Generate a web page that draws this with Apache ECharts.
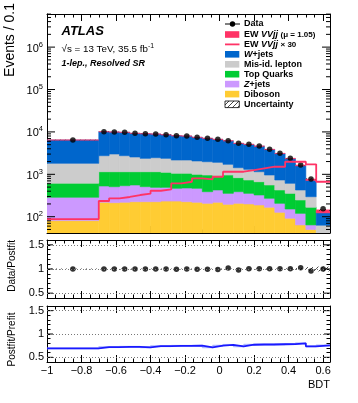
<!DOCTYPE html>
<html><head><meta charset="utf-8">
<script src="https://cdn.jsdelivr.net/npm/echarts@6/dist/echarts.min.js"></script>
<style>html,body{margin:0;padding:0;background:#fff}#c{width:358px;height:403px}</style>
</head><body><div id="c"></div>
<script>
// ---------------- data ----------------
const binEdges = [-1, -0.7, -0.64, -0.58, -0.52, -0.46, -0.40, -0.34, -0.28, -0.22, -0.16, -0.10, -0.04,
  0.02, 0.08, 0.14, 0.20, 0.26, 0.32, 0.38, 0.44, 0.50, 0.56, 0.64];
const diboson = [81, 219, 214, 219, 226, 226, 226, 234, 234, 226, 219, 207, 219, 196, 207, 200, 189, 167, 127, 92, 64, 50, 3];
const zjets   = [206, 311, 296, 319, 334, 285, 267, 259, 234, 250, 249, 182, 208, 160, 182, 156, 136, 105, 80, 60, 56, 14, 3];
const topQuarks = [327, 620, 640, 612, 590, 640, 658, 621, 589, 581, 532, 573, 500, 606, 443, 379, 343, 288, 220, 204, 128, 103, 12];
const misid   = [1201, 1600, 1860, 1600, 1410, 1231, 1313, 1268, 1116, 1116, 1061, 1020, 992, 760, 600, 577, 483, 402, 308, 258, 179, 129, 45];
const wjets   = [4622, 7362, 6931, 7030, 6699, 6686, 6442, 6193, 5937, 5805, 5372, 5063, 4742, 4440, 3913, 3751, 3448, 2878, 2341, 1702, 1163, 421, 60];
const ewSignal = [2.9, 7.8, 9, 10, 11, 12, 14, 15, 20, 22, 27, 25, 29, 38, 38, 42, 46, 50, 50, 66, 66, 57, 22];
const ewX30   = [88, 235, 272, 292, 325, 350, 410, 443, 614, 668, 805, 762, 877, 1151, 1151, 1262, 1387, 1510, 1510, 1980, 1980, 1720, 668];
const dataVals = [6440, 10120, 9950, 9790, 9270, 9080, 8920, 8590, 8130, 8000, 7460, 7070, 6690, 6200, 5380, 5100, 4650, 3890, 3130, 2380, 1660, 774, 155];
const uncRel  = [0.01, 0.01, 0.01, 0.01, 0.01, 0.01, 0.01, 0.01, 0.01, 0.01, 0.01, 0.01, 0.01, 0.01, 0.01, 0.01, 0.012, 0.012, 0.012, 0.015, 0.02, 0.04, 0.05];
const dataPostfit = [1.0, 1.0, 1.0, 1.0, 1.0, 1.0, 1.0, 1.0, 0.995, 1.0, 0.995, 0.995, 0.99, 1.02, 0.98, 1.005, 1.005, 1.005, 1.005, 1.005, 1.025, 0.96, 1.0];
const postfitPrefit = [0.69, 0.72, 0.72, 0.725, 0.725, 0.715, 0.74, 0.74, 0.745, 0.745, 0.75, 0.715, 0.75, 0.765, 0.735, 0.77, 0.775, 0.775, 0.78, 0.785, 0.80, 0.735, 0.755];
const logTickLabels = [1e2, 1e3, 1e4, 1e5, 1e6];
const ratioTickLabels = [0.5, 1, 1.5];

// ---------------- styling / layout ----------------
const FONT = '"Liberation Sans", Arial, Helvetica, sans-serif';
const XMIN = -1, XMAX = 0.64;
const YMIN = 41.3, YMAX = 6.04e6;
const nb = dataVals.length;
const centers = binEdges.slice(0, -1).map((e, i) => (e + binEdges[i + 1]) / 2);

function hatchCanvas() {
  const c = document.createElement('canvas'); c.width = 5; c.height = 5;
  const g = c.getContext('2d'); g.strokeStyle = '#333'; g.lineWidth = 0.9;
  g.beginPath(); g.moveTo(0, 5); g.lineTo(5, 0); g.moveTo(-1, 1); g.lineTo(1, -1); g.moveTo(4, 6); g.lineTo(6, 4); g.stroke();
  return c;
}
const HATCH = { image: hatchCanvas(), repeat: 'repeat' };

function rectSeries(xi, yi, lo, hi, fill, stroke) {
  return {
    type: 'custom', xAxisIndex: xi, yAxisIndex: yi, clip: true, silent: true, animation: false,
    data: lo.map((l, i) => [binEdges[i], binEdges[i + 1], l, hi[i]]),
    encode: { x: [0, 1], y: [2, 3] },
    renderItem: (p, api) => {
      const a = api.coord([api.value(0), api.value(3)]);
      const b = api.coord([api.value(1), api.value(2)]);
      return { type: 'rect', shape: { x: a[0], y: a[1], width: b[0] - a[0], height: b[1] - a[1] },
        style: stroke ? { fill: fill, stroke: stroke, lineWidth: 0.6 } : { fill: fill } };
    }
  };
}
function tickSeries(xi, yi, vals, len) {
  return {
    type: 'custom', xAxisIndex: xi, yAxisIndex: yi, clip: false, silent: true, animation: false,
    data: vals.map(v => [XMIN, v]), encode: { x: 0, y: 1 },
    renderItem: (p, api) => {
      const l = api.coord([XMIN, api.value(1)]);
      const r = api.coord([XMAX, api.value(1)]);
      const st = { stroke: '#000', lineWidth: 1 };
      return { type: 'group', children: [
        { type: 'line', shape: { x1: l[0], y1: l[1], x2: l[0] + len, y2: l[1] }, style: st },
        { type: 'line', shape: { x1: r[0] - len, y1: r[1], x2: r[0], y2: r[1] }, style: st }
      ] };
    }
  };
}
function stepPoints(vals) {
  const pts = vals.map((v, i) => [binEdges[i], v]);
  pts.push([binEdges[nb], vals[nb - 1]]);
  return pts;
}

// stacked layers, bottom to top
const layers = [
  { v: diboson, c: '#ffcc33' },
  { v: zjets, c: '#cc99ff' },
  { v: topQuarks, c: '#00cc33' },
  { v: misid, c: '#cccccc' },
  { v: wjets, c: '#0066cc' },
  { v: ewSignal, c: '#ff3366' }
];
const series = [];
let lo = new Array(nb).fill(1e-3);
layers.forEach(L => {
  const hi = lo.map((b, i) => (b < 1 ? 0 : b) + L.v[i]);
  series.push(rectSeries(0, 0, lo, hi, L.c, L.c));
  lo = hi;
});
const total = lo;
series.push(rectSeries(0, 0, total.map((t, i) => t * (1 - uncRel[i])), total.map((t, i) => t * (1 + uncRel[i])), HATCH));
series.push({ type: 'line', xAxisIndex: 0, yAxisIndex: 0, step: 'end', data: stepPoints(ewX30), symbol: 'none',
  lineStyle: { color: '#ff3366', width: 1.8 }, animation: false, silent: true, clip: true });
series.push({ type: 'scatter', xAxisIndex: 0, yAxisIndex: 0, data: centers.map((c, i) => [c, dataVals[i]]),
  symbol: 'circle', symbolSize: 5.5, itemStyle: { color: '#000' }, animation: false, silent: true });
// log minor/major ticks
const minorLog = [];
for (let e = 1; e <= 6; e++) for (let m = 2; m <= 9; m++) { const v = m * Math.pow(10, e); if (v > YMIN && v < YMAX) minorLog.push(v); }
series.push(tickSeries(0, 0, minorLog, 4));
series.push(tickSeries(0, 0, logTickLabels, 8));

// ratio panel 1: data / postfit
series.push(rectSeries(2, 2, uncRel.map(u => 1 - u), uncRel.map(u => 1 + u), HATCH));
series.push({ type: 'scatter', xAxisIndex: 2, yAxisIndex: 2, data: centers.map((c, i) => [c, dataPostfit[i]]),
  symbol: 'circle', symbolSize: 5.5, itemStyle: { color: '#000' }, animation: false, silent: true,
  markLine: { silent: true, symbol: 'none', label: { show: false }, animation: false,
    lineStyle: { color: '#777', type: [1, 2], width: 1 }, data: ratioTickLabels.map(v => ({ yAxis: v })) } });
series.push(tickSeries(2, 2, ratioTickLabels, 6));
// ratio panel 2: postfit / prefit
series.push(rectSeries(4, 4, postfitPrefit.map(v => v - 0.012), postfitPrefit.map(v => v + 0.012), '#aab4ff', '#aab4ff'));
series.push({ type: 'line', xAxisIndex: 4, yAxisIndex: 4, step: 'end', data: stepPoints(postfitPrefit), symbol: 'none',
  lineStyle: { color: '#1a1aff', width: 1.8 }, animation: false, silent: true,
  markLine: { silent: true, symbol: 'none', label: { show: false }, animation: false,
    lineStyle: { color: '#777', type: [1, 2], width: 1 }, data: ratioTickLabels.map(v => ({ yAxis: v })) } });
series.push(tickSeries(4, 4, ratioTickLabels, 6));

// ---------------- axes ----------------
const fmtX = v => { const r = Math.round(v * 10) / 10; return Math.abs(r) < 1e-9 ? '0' : String(r).replace('-', '\u2212'); };
function xAx(grid, pos, labels) {
  return { type: 'value', gridIndex: grid, position: pos, min: XMIN, max: XMAX, interval: 0.2,
    axisLine: { show: true, onZero: false, lineStyle: { color: '#000', width: 1 } },
    axisTick: { show: true, inside: true, length: 7, lineStyle: { color: '#000' } },
    minorTick: { show: true, splitNumber: 4, length: 3.5, lineStyle: { color: '#000' } },
    splitLine: { show: false }, minorSplitLine: { show: false },
    axisLabel: { show: labels, fontSize: 11, fontFamily: FONT, color: '#000', margin: 3, formatter: fmtX } };
}
function yRatio(grid, pos, labels) {
  return { type: 'value', gridIndex: grid, position: pos, min: 0.4, max: 1.6, interval: 0.1,
    axisLine: { show: true, onZero: false, lineStyle: { color: '#000', width: 1 } },
    axisTick: { show: true, inside: true, length: 3.5, lineStyle: { color: '#000' } },
    splitLine: { show: false },
    axisLabel: { show: labels, fontSize: 11, fontFamily: FONT, color: '#000', margin: 3,
      formatter: v => { const r = Math.round(v * 10) / 10; return ratioTickLabels.indexOf(r) >= 0 ? String(r) : ''; } } };
}
function yLog(pos, labels) {
  return { type: 'log', logBase: 10, gridIndex: 0, position: pos, min: YMIN, max: YMAX,
    axisLine: { show: true, onZero: false, lineStyle: { color: '#000', width: 1 } },
    axisTick: { show: false }, splitLine: { show: false }, minorTick: { show: false },
    axisLabel: { show: labels, showMinLabel: false, showMaxLabel: false, margin: 4, color: '#000',
      formatter: v => { const n = Math.round(Math.log10(v)); return '{b|10}{s|' + n + '}'; },
      rich: { b: { fontSize: 11, fontFamily: FONT, color: '#000', lineHeight: 14, verticalAlign: 'bottom' },
              s: { fontSize: 7.5, fontFamily: FONT, color: '#000', lineHeight: 14, padding: [0, 0, 5, 0] } } } };
}

const legendRows = [
  { y: 24, kind: 'data', text: 'Data' },
  { y: 34.5, kind: 'box', color: '#ff3366', text: 'EW {i|VVjj} {s|(\u03bc = 1.05)}' },
  { y: 44.4, kind: 'line', color: '#ff3366', text: 'EW {i|VVjj} {s|\u00d7 30}' },
  { y: 54.3, kind: 'box', color: '#0066cc', text: '{i|W}+jets' },
  { y: 64.3, kind: 'box', color: '#cccccc', text: 'Mis-id. lepton' },
  { y: 74.2, kind: 'box', color: '#00cc33', text: 'Top Quarks' },
  { y: 84.1, kind: 'box', color: '#cc99ff', text: '{i|Z}+jets' },
  { y: 94.1, kind: 'box', color: '#ffcc33', text: 'Diboson' },
  { y: 104.3, kind: 'hatch', text: 'Uncertainty' }
];
const graphic = [];
legendRows.forEach(r => {
  if (r.kind === 'data') {
    graphic.push({ type: 'line', shape: { x1: 225, y1: r.y, x2: 240, y2: r.y }, style: { stroke: '#000', lineWidth: 1 } });
    graphic.push({ type: 'circle', shape: { cx: 232.5, cy: r.y, r: 2.7 }, style: { fill: '#000' } });
  } else if (r.kind === 'line') {
    graphic.push({ type: 'line', shape: { x1: 225, y1: r.y, x2: 239.5, y2: r.y }, style: { stroke: r.color, lineWidth: 1.8 } });
  } else if (r.kind === 'box') {
    graphic.push({ type: 'rect', shape: { x: 225, y: r.y - 3.3, width: 14.3, height: 6.6 }, style: { fill: r.color } });
  } else {
    graphic.push({ type: 'rect', shape: { x: 225, y: r.y - 3.3, width: 14.3, height: 6.6 }, style: { fill: HATCH, stroke: '#000', lineWidth: 0.8 } });
  }
  graphic.push({ type: 'text', x: 244, y: r.y, style: { text: r.text, fontSize: 9, fontWeight: 'bold', fontFamily: FONT, fill: '#000',
    verticalAlign: 'middle', align: 'left',
    rich: { i: { fontSize: 9, fontFamily: FONT, fontWeight: 'bold', fontStyle: 'italic', fill: '#000' },
            s: { fontSize: 8, fontFamily: FONT, fontWeight: 'bold', fill: '#000' } } } });
});
graphic.push({ type: 'text', x: 61.5, y: 31, style: { text: 'ATLAS', fontSize: 13, fontWeight: 'bold', fontStyle: 'italic', fontFamily: FONT, fill: '#000', verticalAlign: 'middle' } });
graphic.push({ type: 'text', x: 61.5, y: 49, style: { text: '\u221as = 13 TeV, 35.5 fb{s|-1}', fontSize: 9.8, fontFamily: FONT, fill: '#000', verticalAlign: 'middle',
  rich: { s: { fontSize: 6.8, fontFamily: FONT, fill: '#000', padding: [0, 0, 6, 0] } } } });
graphic.push({ type: 'text', x: 61.5, y: 64, style: { text: '1-lep., Resolved SR', fontSize: 9, fontWeight: 'bold', fontStyle: 'italic', fontFamily: FONT, fill: '#000', verticalAlign: 'middle' } });
graphic.push({ type: 'text', x: 10, y: 3, rotation: Math.PI / 2, style: { text: 'Events / 0.1', fontSize: 14, fontFamily: FONT, fill: '#000', align: 'right', verticalAlign: 'middle' } });
graphic.push({ type: 'text', x: 12, y: 240, rotation: Math.PI / 2, style: { text: 'Data/Postfit', fontSize: 10, fontFamily: FONT, fill: '#000', align: 'right', verticalAlign: 'middle' } });
graphic.push({ type: 'text', x: 12, y: 339.5, rotation: Math.PI / 2, style: { text: 'Postfit/Prefit', fontSize: 10, fontFamily: FONT, fill: '#000', align: 'center', verticalAlign: 'middle' } });
graphic.push({ type: 'text', x: 330, y: 385, style: { text: 'BDT', fontSize: 11, fontFamily: FONT, fill: '#000', align: 'right', verticalAlign: 'middle' } });

const chart = echarts.init(document.getElementById('c'), null, { renderer: 'canvas' });
chart.setOption({
  animation: false,
  backgroundColor: '#fff',
  grid: [
    { left: 47, right: 28, top: 14, height: 219 },
    { left: 47, right: 28, top: 240, height: 58 },
    { left: 47, right: 28, top: 306, height: 56 }
  ],
  xAxis: [xAx(0, 'bottom', false), xAx(0, 'top', false), xAx(1, 'bottom', false), xAx(1, 'top', false), xAx(2, 'bottom', true), xAx(2, 'top', false)],
  yAxis: [yLog('left', true), yLog('right', false), yRatio(1, 'left', true), yRatio(1, 'right', false), yRatio(2, 'left', true), yRatio(2, 'right', false)],
  series: series,
  graphic: graphic
});
</script></body></html>
